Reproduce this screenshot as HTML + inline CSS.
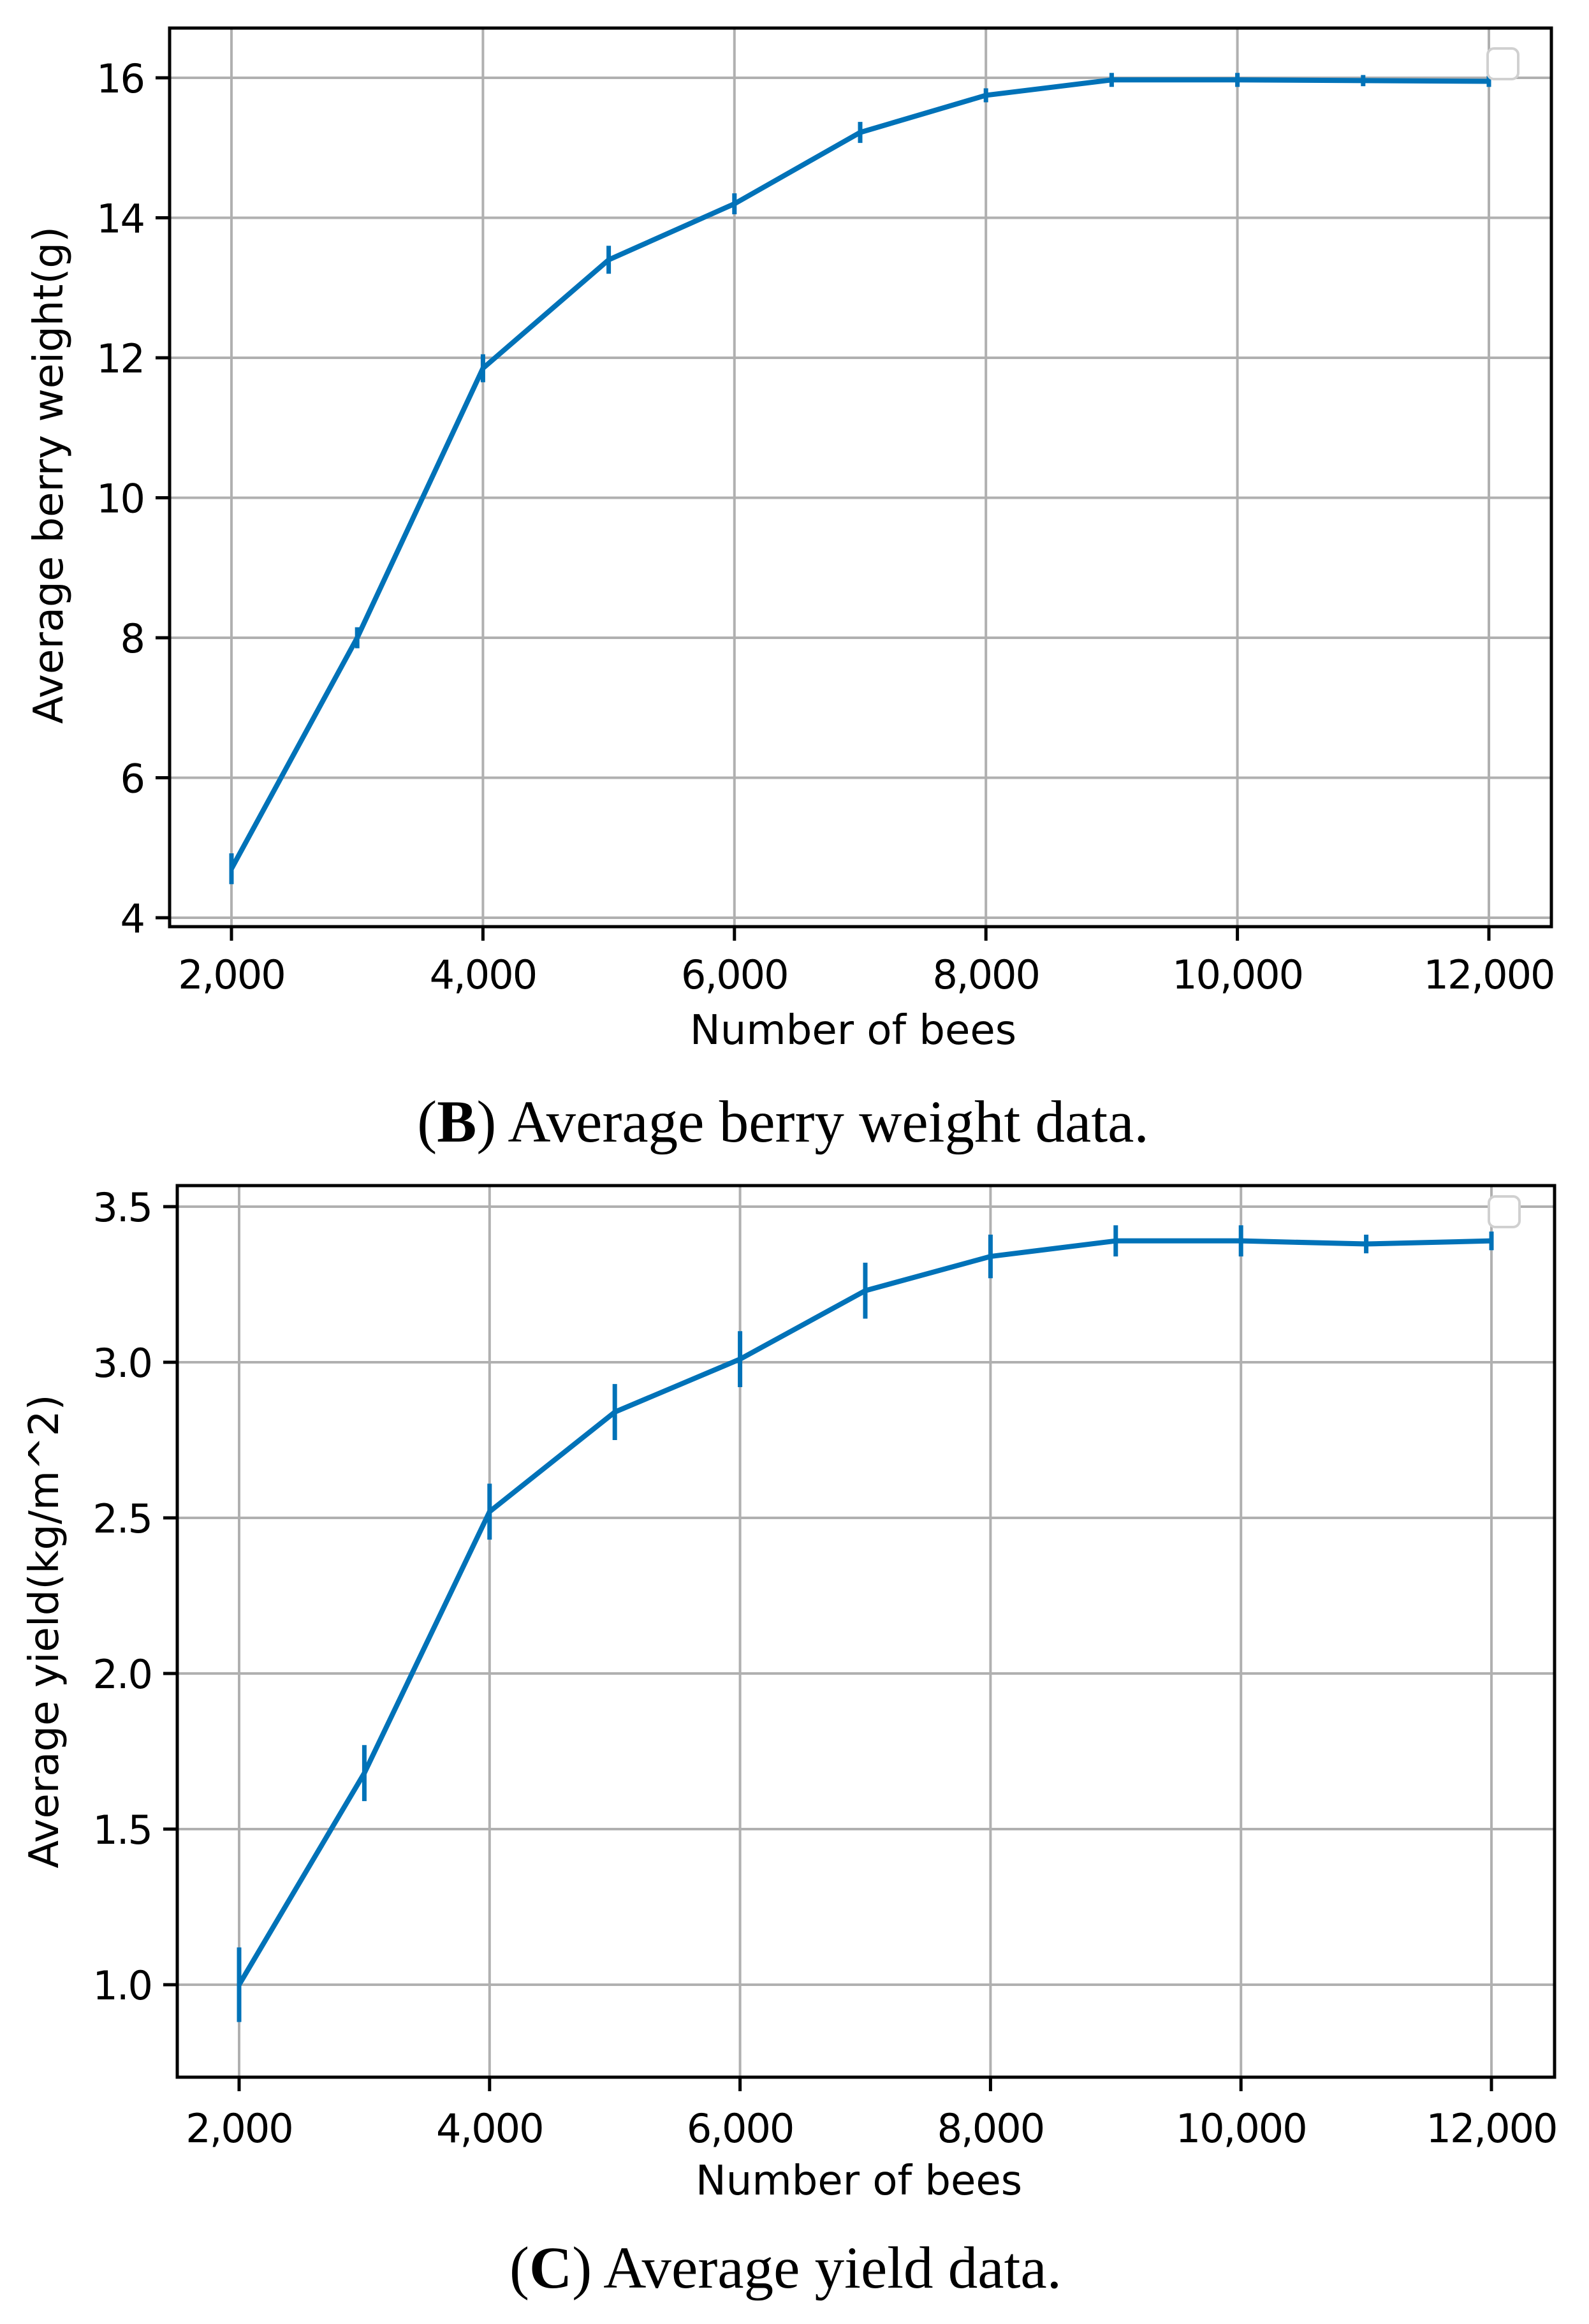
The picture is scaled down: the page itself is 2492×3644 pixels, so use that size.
<!DOCTYPE html>
<html><head><meta charset="utf-8"><style>
html,body{margin:0;padding:0;background:#fff;}
svg{display:block;}
.tick{font-family:"DejaVu Sans","Liberation Sans",sans-serif;font-size:62px;fill:#000;letter-spacing:-2px;}
.lab{font-family:"DejaVu Sans","Liberation Sans",sans-serif;font-size:64px;fill:#000;}
.cap{font-family:"Liberation Serif",serif;font-size:93px;fill:#000;}
</style></head><body>
<svg id="fig" width="2492" height="3644" viewBox="0 0 2492 3644" xmlns="http://www.w3.org/2000/svg"></svg>
<script>
const categories = [2000,3000,4000,5000,6000,7000,8000,9000,10000,11000,12000];
const berryWeight = [4.7,8.0,11.85,13.4,14.2,15.22,15.75,15.97,15.97,15.96,15.95];
const berryErr = [0.22,0.15,0.2,0.2,0.15,0.15,0.1,0.1,0.1,0.08,0.08];
const yieldVals = [1.0,1.68,2.52,2.84,3.01,3.23,3.34,3.39,3.39,3.38,3.39];
const yieldErr = [0.12,0.09,0.09,0.09,0.09,0.09,0.07,0.05,0.05,0.03,0.03];
const xTicks = [2000,4000,6000,8000,10000,12000];
const xTickLabels = ["2,000","4,000","6,000","8,000","10,000","12,000"];
const berryTicks = [4,6,8,10,12,14,16];
const berryTickLabels = ["4","6","8","10","12","14","16"];
const yieldTicks = [1.0,1.5,2.0,2.5,3.0,3.5];
const yieldTickLabels = ["1.0","1.5","2.0","2.5","3.0","3.5"];

const NS="http://www.w3.org/2000/svg";
const svg=document.getElementById('fig');
function mk(tag,attrs,parent){const e=document.createElementNS(NS,tag);for(const k in attrs)e.setAttribute(k,attrs[k]);(parent||svg).appendChild(e);return e;}

function drawChart(cfg){
  const g=mk('g',{});
  
  
  const L=cfg.left,R=cfg.right,T=cfg.top,B=cfg.bottom;
  const xs=v=>cfg.x0px+(v-2000)*(cfg.x1px-cfg.x0px)/10000;
  const ys=v=>cfg.y0px+(v-cfg.y0v)*(cfg.y1px-cfg.y0px)/(cfg.y1v-cfg.y0v);
  xTicks.forEach(v=>{const l=mk('line',{x1:xs(v),x2:xs(v),y1:T,y2:B,stroke:'#b0b0b0','stroke-width':4},g);
    
    });
  cfg.yTicks.forEach(v=>{const l=mk('line',{x1:L,x2:R,y1:ys(v),y2:ys(v),stroke:'#b0b0b0','stroke-width':4},g);
    
    });
  const pts=categories.map((c,i)=>xs(c)+','+ys(cfg.vals[i])).join(' ');
  const pl=mk('polyline',{points:pts,fill:'none',stroke:'#0072b8','stroke-width':8,'stroke-linejoin':'round'},g);
  
  
  categories.forEach((c,i)=>{
    const e=mk('line',{x1:xs(c),x2:xs(c),y1:ys(cfg.vals[i]-cfg.errs[i]),y2:ys(cfg.vals[i]+cfg.errs[i]),stroke:'#0072b8','stroke-width':7},g);
    
    
  });
  const fr=mk('rect',{x:L,y:T,width:R-L,height:B-T,fill:'none',stroke:'#000','stroke-width':5},g);
  
  
  xTicks.forEach((v,i)=>{
    mk('line',{x1:xs(v),x2:xs(v),y1:B,y2:B+22,stroke:'#000','stroke-width':5},g);
    const t=mk('text',{x:xs(v),y:cfg.xLabY,'text-anchor':'middle',class:'tick'},g);
    t.textContent=xTickLabels[i];
    
    
  });
  cfg.yTicks.forEach((v,i)=>{
    mk('line',{x1:L-22,x2:L,y1:ys(v),y2:ys(v),stroke:'#000','stroke-width':5},g);
    const t=mk('text',{x:L-40,y:ys(v)+23,'text-anchor':'end',class:'tick'},g);
    t.textContent=cfg.yLabels[i];
    
    
  });
  const xt=mk('text',{x:cfg.xTitleX,y:cfg.xTitleY,'text-anchor':'middle',class:'lab'},g);
  xt.textContent='Number of bees';
  
  
  const yt=mk('text',{x:0,y:0,'text-anchor':'middle',class:'lab',transform:`translate(${cfg.yTitleX},${cfg.yTitleY}) rotate(-90)`,textLength:cfg.yTitleLen,lengthAdjust:'spacingAndGlyphs'},g);
  yt.textContent=cfg.yTitle;
  
  
  const lg=mk('rect',{x:cfg.legX,y:cfg.legY,width:48,height:48,rx:10,fill:'#fff',stroke:'#d0d0d0','stroke-width':4},g);
  
  
  const cp=mk('text',{x:cfg.capX,y:cfg.capY,'text-anchor':'middle',class:'cap'},g);
  cp.innerHTML='(<tspan font-weight="bold">'+cfg.capLetter+'</tspan>) '+cfg.capText;
  
  
}

drawChart({name:'berry-weight-chart',left:266,right:2433,top:44,bottom:1453,
  x0px:363,x1px:2335,y0v:4,y0px:1439,y1v:16,y1px:122,
  vals:berryWeight,errs:berryErr,yTicks:berryTicks,yLabels:berryTickLabels,
  xLabY:1550,xTitleX:1338,xTitleY:1637,yTitleX:98,yTitleY:745,yTitleLen:780,
  yTitle:'Average berry weight(g)',legX:2333,legY:76,
  capX:1228,capY:1790,capLetter:'B',capText:'Average berry weight data.'});

drawChart({name:'yield-chart',left:278,right:2438,top:1859,bottom:3257,
  x0px:375,x1px:2339,y0v:1.0,y0px:3112,y1v:3.5,y1px:1892,
  vals:yieldVals,errs:yieldErr,yTicks:yieldTicks,yLabels:yieldTickLabels,
  xLabY:3359,xTitleX:1347,xTitleY:3441,yTitleX:91,yTitleY:2558,yTitleLen:743,
  yTitle:'Average yield(kg/m^2)',legX:2335,legY:1876,
  capX:1232,capY:3587,capLetter:'C',capText:'Average yield data.'});
</script>
</body></html>
